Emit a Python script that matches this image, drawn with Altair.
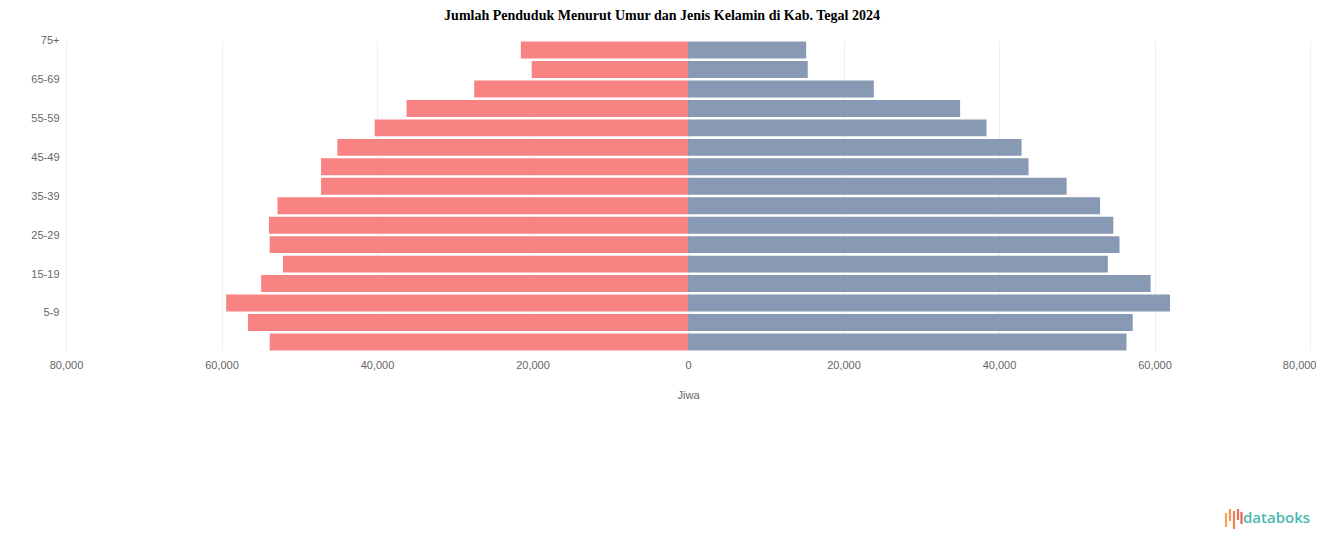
import altair as alt
import pandas as pd

ages = ["75+", "70-74", "65-69", "60-64", "55-59", "50-54", "45-49", "40-44",
        "35-39", "30-34", "25-29", "20-24", "15-19", "10-14", "5-9", "0-4"]
left_vals = [21500, 20100, 27500, 36200, 40300, 45100, 47200, 47200,
             52800, 53900, 53800, 52100, 54900, 59400, 56600, 53800]
right_vals = [15200, 15400, 23900, 35000, 38400, 42900, 43800, 48700,
              53000, 54700, 55500, 54000, 59500, 62000, 57200, 56400]
series = ["Perempuan", "Laki-laki"]
colors = ["#f98383", "#8799b3"]
shown_labels = ["75+", "65-69", "55-59", "45-49", "35-39", "25-29", "15-19", "5-9"]
x_ticks = [-80000, -60000, -40000, -20000, 0, 20000, 40000, 60000, 80000]

df = pd.DataFrame({
    "umur": ages + ages,
    "jenis": [series[0]] * len(ages) + [series[1]] * len(ages),
    "nilai": [-v for v in left_vals] + right_vals,
})

bars = alt.Chart(df).mark_bar().encode(
    y=alt.Y("umur:N", sort=ages,
            scale=alt.Scale(paddingInner=0.13, paddingOuter=0.03),
            axis=alt.Axis(values=shown_labels, labelOffset=-9, ticks=False,
                          domain=False, grid=False, labelPadding=7,
                          labelFontSize=11, labelColor="#666666",
                          labelFont="Liberation Sans", title=None)),
    x=alt.X("nilai:Q", stack=None,
            scale=alt.Scale(domain=[-80000, 80000], nice=False),
            axis=alt.Axis(values=x_ticks,
                          labelExpr="format(abs(datum.value), ',')",
                          labelAlign=alt.condition("datum.value == 80000",
                                                   alt.value("right"),
                                                   alt.value("center")),
                          labelOffset=alt.condition("datum.value == 80000",
                                                    alt.value(6),
                                                    alt.value(0)),
                          ticks=False, domain=False, grid=True,
                          gridColor="#eeeeee", labelPadding=8,
                          labelFontSize=11, labelColor="#666666",
                          labelFont="Liberation Sans", labelFlush=False,
                          title="Jiwa", titleFontSize=11,
                          titleFontWeight="normal", titleColor="#666666",
                          titleFont="Liberation Sans", titlePadding=19)),
    color=alt.Color("jenis:N", scale=alt.Scale(domain=series, range=colors),
                    legend=None),
)

one = pd.DataFrame({"a": [0]})
logo_text = alt.Chart(one).mark_text(
    text="databoks", font="Open Sans", fontSize=15, fontWeight=600,
    color="#4cb8b0", align="left", baseline="middle"
).encode(x=alt.value(1177), y=alt.value(477))

icon_specs = [
    (1160, 472, 486, "#f7a35c"),
    (1164, 468, 480, "#f59256"),
    (1168, 470, 488, "#f07f55"),
    (1172, 468, 479, "#ec6f55"),
    (1175.5, 471, 483, "#e96055"),
]
icons = [
    alt.Chart(one).mark_rule(strokeWidth=2.2, color=c).encode(
        x=alt.value(x), y=alt.value(y1), y2=alt.value(y2))
    for (x, y1, y2, c) in icon_specs
]

chart = alt.layer(bars, logo_text, *icons).properties(
    width=1244, height=310,
    title=alt.TitleParams(
        "Jumlah Penduduk Menurut Umur dan Jenis Kelamin di Kab. Tegal 2024",
        font="Liberation Serif", fontSize=14, fontWeight="bold",
        color="#000000", anchor="middle", dx=-26, offset=12),
    autosize=alt.AutoSizeParams(type="none"),
    padding={"left": 58, "top": 33, "right": 6, "bottom": 190},
).configure_view(stroke=None)

chart.save("out.html", embed_options={"renderer": "svg", "actions": False})
